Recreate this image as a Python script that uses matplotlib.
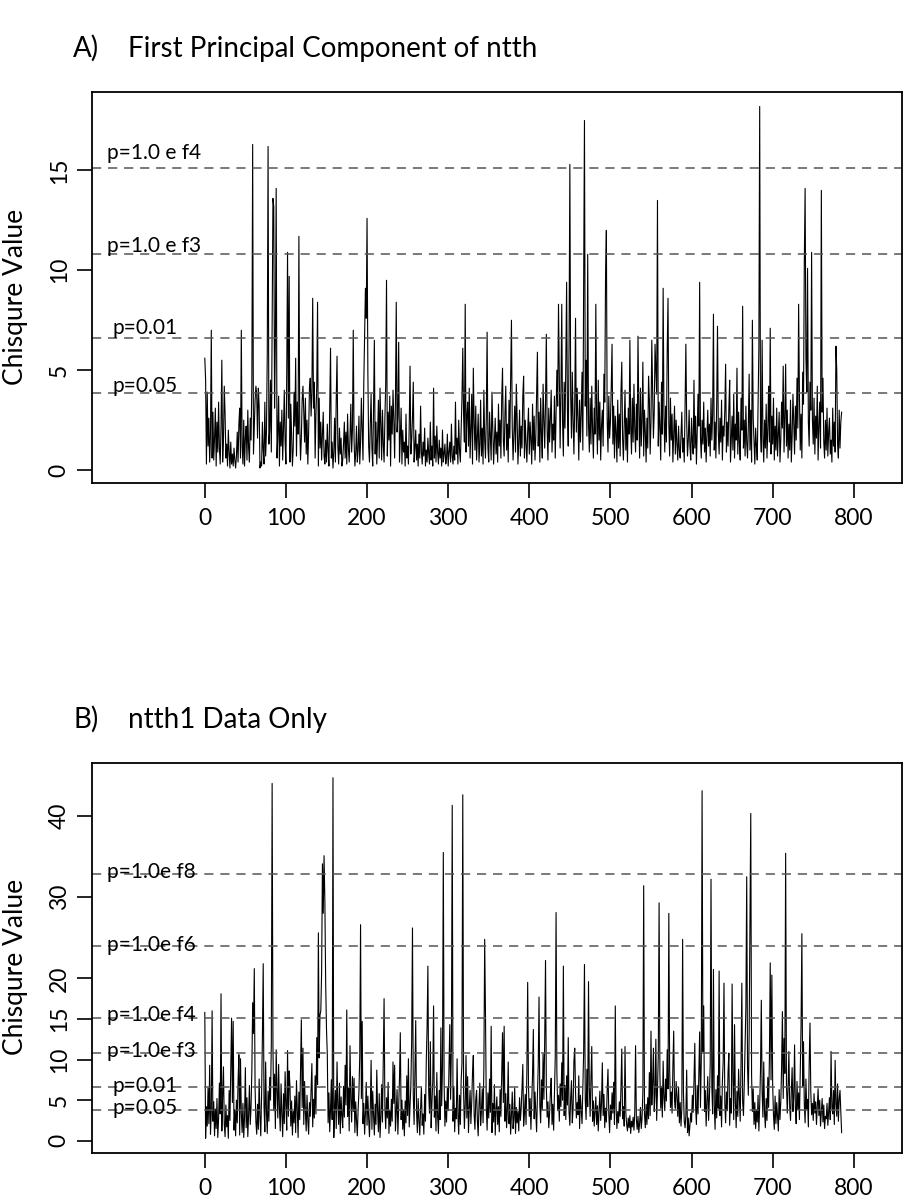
import matplotlib
matplotlib.use("Agg")
import matplotlib.pyplot as plt
import numpy as np

plt.rcParams['font.family'] = ['Lato', 'DejaVu Sans']

# Data: chi-square value per marker position (0..785)
chi_a = [
    5.6, 4.5, 0.3, 3.9, 1.2, 2.6, 0.4, 1.8, 7.0, 0.6,
    2.9, 0.5, 1.6, 3.1, 0.2, 2.4, 0.9, 3.4, 1.1, 0.3,
    2.2, 5.5, 0.4, 1.5, 4.2, 2.8, 0.6, 1.3, 0.2, 2.0,
    0.9, 0.1, 1.4, 0.3, 0.8, 0.2, 1.1, 0.5, 0.1, 0.7,
    1.9, 0.4, 2.3, 3.1, 0.6, 7.0, 1.2, 0.3, 2.5, 0.2,
    1.6, 2.2, 0.5, 3.0, 1.1, 0.4, 2.6, 1.5, 4.3, 16.3,
    0.8, 2.1, 3.5, 4.2, 3.8, 1.6, 4.1, 3.2, 0.1, 0.4,
    0.2, 2.4, 1.0, 0.3, 3.4, 0.7, 1.9, 5.8, 16.2, 1.3,
    2.0, 4.5, 0.9, 6.9, 13.6, 13.2, 3.1, 6.5, 14.1, 0.6,
    1.8, 3.7, 0.2, 2.4, 1.2, 3.0, 0.5, 2.1, 4.0, 1.4,
    0.3, 4.8, 10.9, 2.6, 9.7, 0.4, 3.3, 1.7, 0.2, 1.1,
    3.9, 2.2, 5.6, 0.7, 3.4, 1.8, 11.7, 2.3, 0.5, 1.6,
    3.5, 4.2, 2.9, 1.4, 3.6, 0.8, 2.5, 0.3, 1.9, 4.1,
    4.6, 2.7, 3.9, 8.6, 3.1, 4.4, 0.6, 2.8, 4.2, 8.4,
    0.2, 3.6, 1.1, 2.4, 0.5, 1.8, 2.9, 0.7, 0.3, 1.5,
    0.4, 2.3, 1.0, 0.2, 3.0, 6.1, 0.6, 1.4, 0.1, 0.9,
    2.6, 0.4, 3.5, 5.7, 1.2, 0.3, 2.1, 0.8, 1.6, 0.2,
    0.5, 1.3, 2.4, 0.6, 1.9, 0.3, 2.8, 1.1, 0.4, 1.7,
    3.3, 0.9, 2.0, 7.0, 1.5, 0.2, 0.8, 2.2, 0.4, 1.0,
    2.7, 0.3, 1.4, 3.6, 2.1, 0.5, 4.4, 6.8, 9.1, 7.6,
    12.6, 4.9, 1.2, 0.4, 2.3, 3.8, 1.1, 0.2, 3.1, 6.5,
    0.8, 2.4, 0.3, 1.7, 3.5, 0.6, 4.1, 2.2, 0.5, 3.0,
    1.3, 0.4, 2.6, 4.3, 9.5, 0.7, 2.9, 1.5, 3.7, 0.2,
    3.2, 1.8, 4.0, 2.5, 0.6, 3.4, 8.4, 1.9, 2.7, 6.4,
    0.4, 1.6, 3.1, 0.3, 2.0, 0.9, 1.4, 0.2, 2.8, 0.6,
    1.2, 0.3, 2.2, 5.2, 0.8, 1.5, 2.6, 4.4, 0.4, 1.1,
    2.0, 0.5, 1.3, 0.2, 1.8, 0.6, 3.2, 0.9, 0.3, 1.4,
    0.7, 2.1, 0.2, 1.0, 0.4, 1.6, 0.8, 0.3, 2.4, 0.5,
    1.2, 0.2, 4.1, 0.6, 1.7, 0.4, 2.2, 0.9, 0.3, 1.5,
    0.6, 1.1, 0.2, 2.0, 0.4, 0.8, 1.3, 0.3, 0.6, 1.8,
    0.2, 0.9, 1.4, 0.4, 2.3, 0.7, 0.3, 1.2, 0.5, 3.4,
    0.8, 1.6, 0.3, 2.5, 1.0, 0.4, 1.9, 3.6, 6.1, 2.8,
    1.4, 8.3, 0.9, 2.7, 3.4, 1.2, 4.1, 0.6, 2.0, 3.8,
    0.3, 5.1, 2.4, 1.0, 3.2, 0.5, 1.6, 2.8, 0.4, 1.3,
    3.5, 0.7, 2.1, 0.3, 4.0, 1.5, 0.6, 2.6, 6.9, 1.1,
    0.4, 2.9, 1.7, 0.5, 3.9, 2.2, 0.3, 1.4, 2.6, 0.8,
    1.9, 0.4, 3.3, 1.2, 2.5, 0.6, 3.6, 5.1, 1.5, 0.7,
    2.8, 4.2, 1.0, 2.3, 0.4, 3.5, 1.6, 4.6, 7.5, 2.1,
    0.5, 1.8, 3.2, 0.9, 4.3, 2.6, 0.3, 1.4, 3.0, 0.7,
    2.2, 1.1, 3.7, 4.7, 0.6, 2.5, 1.3, 0.4, 1.9, 3.1,
    0.8, 2.4, 1.5, 0.3, 3.3, 1.0, 2.7, 0.5, 1.6, 3.8,
    5.9, 1.2, 2.9, 0.4, 3.6, 1.8, 0.6, 4.3, 2.5, 1.1,
    3.4, 6.8, 2.0, 0.5, 3.1, 1.4, 2.6, 4.0, 0.9, 2.3,
    1.5, 3.7, 0.6, 2.8, 5.0, 3.2, 8.3, 4.6, 1.1, 3.9,
    8.3, 2.4, 0.7, 4.4, 2.1, 5.3, 9.4, 3.0, 1.2, 6.2,
    15.3, 3.8, 1.6, 4.9, 2.5, 0.8, 3.3, 7.6, 1.9, 4.1,
    2.6, 0.5, 3.5, 1.4, 2.8, 4.9, 1.0, 9.8, 17.5, 3.2,
    5.5, 1.7, 10.8, 2.3, 0.9, 3.6, 1.3, 4.2, 2.0, 0.6,
    3.1, 1.8, 8.3, 2.7, 0.8, 4.5, 1.5, 3.4, 0.5, 2.2,
    3.0, 1.2, 4.8, 3.4, 9.7, 12.0, 2.5, 0.9, 3.7, 1.6,
    2.4, 4.1, 6.3, 1.3, 3.2, 0.6, 2.7, 1.9, 0.4, 3.5,
    1.1, 2.8, 0.7, 3.9, 5.4, 1.6, 0.5, 2.3, 4.0, 1.0,
    2.6, 0.4, 3.1, 1.8, 6.5, 2.2, 0.8, 3.6, 1.4, 4.3,
    2.0, 0.9, 3.3, 1.5, 6.7, 2.9, 0.6, 4.1, 1.2, 2.5,
    5.4, 0.7, 3.0, 1.9, 0.4, 2.6, 1.1, 4.7, 3.5, 0.8,
    2.4, 6.5, 4.2, 1.6, 2.9, 6.3, 5.0, 3.8, 13.5, 1.2,
    3.4, 2.1, 0.5, 4.4, 1.8, 9.1, 2.7, 0.9, 3.2, 1.4,
    6.0, 8.6, 2.3, 0.7, 3.6, 1.5, 2.8, 0.4, 1.9, 3.2,
    0.8, 2.5, 1.3, 0.5, 2.2, 1.0, 0.6, 1.7, 2.9, 0.9,
    1.6, 0.4, 3.1, 6.3, 2.4, 0.7, 1.5, 3.0, 1.2, 0.5,
    2.6, 1.4, 0.8, 4.5, 1.1, 2.7, 0.3, 1.9, 3.8, 2.2,
    9.4, 1.6, 0.6, 2.5, 1.3, 3.4, 0.9, 2.1, 0.4, 1.8,
    3.0, 1.2, 2.3, 0.7, 3.6, 1.5, 2.8, 7.8, 1.0, 2.4,
    0.6, 3.3, 7.2, 1.9, 0.8, 2.6, 1.4, 3.5, 0.5, 2.2,
    1.7, 3.0, 5.3, 0.9, 2.4, 1.2, 3.1, 4.5, 0.4, 1.6,
    2.7, 1.0, 3.8, 0.6, 2.3, 1.5, 5.1, 0.8, 2.9, 1.3,
    0.5, 3.6, 2.0, 8.2, 1.1, 2.5, 0.7, 3.2, 1.4, 0.6,
    2.2, 4.8, 1.0, 3.0, 0.4, 7.5, 2.6, 1.5, 0.3, 2.1,
    1.2, 0.5, 3.4, 6.1, 18.2, 2.0, 0.9, 6.5, 1.6, 0.4,
    2.5, 1.1, 3.3, 0.6, 2.0, 4.2, 1.4, 7.1, 0.8, 2.7,
    1.3, 3.6, 0.5, 2.2, 1.0, 3.1, 0.7, 1.8, 2.9, 0.4,
    1.5, 3.4, 2.1, 5.2, 0.9, 2.6, 5.3, 1.2, 3.0, 0.6,
    2.3, 1.0, 3.5, 0.4, 1.7, 3.8, 2.4, 0.8, 3.2, 1.5,
    4.6, 2.1, 8.3, 3.7, 1.0, 2.8, 0.6, 4.9, 3.3, 10.4,
    14.1, 5.6, 3.9, 10.1, 2.4, 1.2, 4.4, 3.0, 10.9, 2.5,
    1.3, 3.6, 0.8, 2.7, 1.6, 4.2, 0.5, 2.2, 3.4, 1.1,
    14.0, 2.9, 4.6, 1.4, 0.6, 2.5, 1.0, 3.1, 0.7, 1.9,
    2.6, 0.8, 1.5, 0.4, 3.1, 1.2, 2.4, 0.9, 6.2, 5.0,
    1.3, 0.6, 3.0, 1.1, 2.4, 2.9,
]

chi_b = [
    15.8, 0.3, 4.2, 1.8, 6.5, 2.1, 9.3, 0.8, 3.6, 16.0,
    2.4, 4.8, 0.6, 3.9, 1.5, 5.2, 0.4, 2.7, 7.1, 3.3,
    18.1, 1.2, 5.6, 9.1, 2.0, 0.5, 4.4, 1.7, 3.1, 0.3,
    6.2, 2.5, 8.4, 15.1, 4.7, 14.7, 1.3, 3.8, 0.6, 5.0,
    2.2, 7.3, 10.6, 0.7, 10.1, 3.4, 1.0, 4.6, 0.4, 2.9,
    9.0, 1.6, 5.3, 0.5, 3.2, 6.8, 2.0, 4.1, 8.7, 17.0,
    13.2, 21.2, 6.4, 2.3, 0.8, 4.5, 1.4, 7.6, 3.0, 0.6,
    5.7, 12.8, 21.8, 4.2, 1.1, 9.7, 3.5, 0.9, 6.1, 2.4,
    7.8, 5.0, 12.0, 44.0, 11.5, 3.7, 8.2, 1.5, 11.2, 6.3,
    2.8, 9.4, 4.0, 1.2, 7.0, 3.3, 0.5, 5.8, 2.1, 8.5,
    4.4, 1.3, 11.1, 3.0, 8.6, 6.7, 1.8, 4.9, 0.7, 3.6,
    2.2, 5.5, 1.0, 7.4, 3.9, 0.4, 6.0, 2.6, 9.2, 14.9,
    4.1, 11.4, 2.0, 7.3, 3.5, 1.2, 5.6, 2.4, 0.8, 4.7,
    3.0, 6.4, 9.5, 1.7, 5.1, 2.8, 8.0, 3.3, 12.7, 6.9,
    25.6, 10.2, 15.5, 16.0, 20.8, 34.1, 28.0, 35.1, 29.5, 19.4,
    13.8, 10.6, 2.2, 5.9, 1.1, 4.0, 7.5, 2.6, 44.7, 0.4,
    3.8, 6.2, 1.5, 9.7, 4.3, 2.0, 7.1, 0.9, 5.4, 3.1,
    1.6, 6.7, 2.9, 9.3, 4.4, 16.1, 3.0, 6.5, 1.2, 11.7,
    5.1, 2.3, 7.9, 3.6, 7.7, 1.0, 4.8, 2.5, 0.6, 3.9,
    6.0, 10.4, 26.6, 5.2, 14.7, 2.1, 4.6, 0.8, 3.4, 7.2,
    1.9, 5.5, 2.7, 0.5, 4.0, 9.9, 1.4, 6.1, 3.2, 0.7,
    4.5, 2.0, 8.7, 3.6, 1.1, 5.8, 0.4, 3.0, 6.9, 2.3,
    9.6, 17.5, 4.1, 1.5, 5.3, 2.8, 7.2, 0.9, 3.7, 1.8,
    5.1, 2.4, 9.7, 4.6, 9.3, 1.2, 3.5, 6.3, 0.8, 4.2,
    7.7, 13.3, 2.6, 5.0, 1.4, 3.8, 0.6, 4.9, 2.2, 8.0,
    3.1, 10.1, 1.7, 4.4, 6.8, 12.3, 26.2, 5.5, 2.0, 8.1,
    14.8, 3.6, 1.0, 5.2, 2.5, 0.7, 4.0, 6.6, 1.9, 3.3,
    0.8, 5.7, 2.4, 9.8, 13.9, 21.5, 6.0, 3.4, 12.2, 1.6,
    4.7, 7.3, 16.6, 2.9, 5.5, 1.2, 8.4, 3.0, 0.9, 6.2,
    2.6, 13.9, 4.3, 9.1, 35.5, 7.0, 1.8, 4.9, 2.3, 6.5,
    3.7, 8.8, 14.3, 5.1, 11.6, 41.3, 2.4, 6.7, 1.1, 4.0,
    2.7, 10.1, 3.2, 0.8, 5.6, 2.0, 7.4, 9.5, 42.6, 6.1,
    1.5, 4.4, 10.5, 2.8, 7.9, 1.0, 3.9, 6.2, 2.1, 4.8,
    8.3, 10.5, 3.3, 1.4, 5.0, 6.2, 2.5, 0.6, 4.3, 7.1,
    1.9, 3.6, 6.4, 2.2, 9.0, 24.8, 15.5, 4.1, 1.3, 5.9,
    2.8, 7.6, 3.5, 14.1, 1.0, 4.6, 2.3, 6.9, 0.7, 3.8,
    5.4, 2.0, 4.2, 1.1, 6.3, 3.0, 8.2, 13.3, 4.7, 14.1,
    2.4, 5.8, 1.6, 3.9, 9.7, 2.1, 4.5, 0.8, 3.2, 6.0,
    1.5, 2.7, 6.5, 0.9, 4.1, 2.2, 3.6, 1.2, 5.3, 2.5,
    4.0, 6.4, 9.4, 1.8, 3.3, 5.7, 2.0, 8.6, 19.5, 6.8,
    3.0, 5.2, 1.4, 4.6, 8.1, 13.7, 2.7, 6.0, 3.5, 1.1,
    5.5, 9.2, 17.7, 4.3, 2.2, 7.5, 3.8, 10.7, 5.1, 12.4,
    22.2, 6.6, 2.9, 4.8, 1.6, 3.4, 5.9, 7.7, 2.0, 4.5,
    1.3, 6.1, 10.3, 28.1, 8.5, 3.7, 5.6, 2.4, 7.0, 4.2,
    9.6, 5.0, 21.5, 3.1, 6.8, 2.6, 8.0, 4.4, 12.7, 3.5,
    1.9, 5.3, 7.4, 2.2, 4.0, 9.8, 11.4, 6.0, 2.8, 4.7,
    3.2, 8.0, 1.5, 5.6, 3.9, 2.1, 6.3, 10.9, 21.7, 5.0,
    2.6, 8.8, 4.2, 19.6, 6.5, 3.0, 7.7, 11.6, 2.4, 4.9,
    1.8, 3.6, 5.4, 2.0, 4.3, 1.2, 3.8, 6.1, 2.5, 4.6,
    9.6, 3.1, 5.7, 1.6, 4.0, 2.3, 6.2, 8.8, 3.3, 1.0,
    4.4, 2.6, 5.9, 3.4, 7.2, 2.0, 16.6, 4.1, 1.5, 3.6,
    2.2, 4.8, 3.0, 6.5, 11.3, 2.7, 4.2, 1.8, 11.6, 3.4,
    2.0, 1.2, 2.8, 1.6, 3.1, 0.9, 2.4, 1.7, 2.9, 1.3,
    3.5, 11.7, 2.6, 1.4, 3.0, 1.0, 2.2, 4.1, 1.5, 2.8,
    6.0, 31.4, 3.2, 1.6, 4.5, 2.0, 5.3, 2.7, 8.4, 3.1,
    13.5, 4.4, 7.0, 11.4, 3.6, 5.8, 12.5, 2.5, 6.2, 10.6,
    29.3, 8.2, 4.0, 6.7, 2.9, 9.8, 5.3, 3.7, 7.6, 4.9,
    11.2, 6.4, 28.0, 8.9, 4.1, 6.0, 3.4, 9.1, 13.5, 5.0,
    4.0, 7.3, 5.4, 3.0, 6.6, 2.2, 4.7, 1.8, 3.9, 24.8,
    6.0, 2.4, 1.6, 3.1, 8.7, 1.0, 2.8, 0.6, 1.9, 3.4,
    2.3, 5.6, 3.5, 7.4, 12.0, 4.2, 2.0, 6.8, 3.3, 8.6,
    13.4, 4.1, 9.9, 43.1, 11.0, 16.6, 3.6, 6.2, 1.8, 4.7,
    7.9, 2.5, 5.1, 9.4, 32.2, 6.7, 3.3, 21.1, 4.5, 1.4,
    6.3, 2.8, 8.0, 4.0, 20.9, 3.1, 5.5, 1.7, 7.2, 9.8,
    19.4, 4.6, 2.2, 6.0, 3.7, 8.5, 10.8, 1.9, 5.2, 3.4,
    19.3, 7.5, 2.6, 14.3, 4.9, 1.6, 6.1, 3.0, 8.8, 5.3,
    2.4, 9.6, 19.4, 4.8, 3.1, 7.0, 11.8, 16.5, 32.5, 9.2,
    5.6, 13.0, 27.5, 40.3, 8.1, 3.6, 6.4, 2.0, 4.7, 1.5,
    3.8, 2.3, 5.6, 1.2, 4.4, 8.7, 17.3, 6.0, 2.9, 9.7,
    3.4, 1.6, 5.2, 2.5, 7.8, 4.1, 10.3, 21.9, 7.5, 20.4,
    6.9, 3.2, 1.4, 5.5, 2.1, 4.7, 3.0, 1.2, 6.3, 2.6,
    4.8, 9.0, 15.9, 5.2, 12.6, 8.3, 35.4, 7.0, 3.4, 6.6,
    11.0, 4.2, 2.5, 6.1, 9.0, 3.6, 5.4, 11.8, 4.0, 2.1,
    7.3, 3.8, 5.9, 2.6, 8.4, 14.3, 25.5, 6.7, 12.2, 4.5,
    2.2, 7.6, 3.9, 5.1, 1.7, 9.5, 14.5, 6.0, 3.2, 4.6,
    2.5, 5.8, 3.4, 4.8, 2.0, 4.1, 6.4, 3.1, 5.0, 1.8,
    3.6, 5.2, 2.3, 4.4, 1.5, 3.0, 2.7, 4.6, 1.9, 3.5,
    5.3, 2.6, 11.0, 4.1, 3.3, 6.2, 2.0, 9.9, 4.5, 3.0,
    7.0, 2.4, 5.1, 6.2, 3.7, 1.0,
]

# significance thresholds (chi-square, 1 df) and their labels
thr_a = [15.14, 10.83, 6.63, 3.84]
lab_a = ['p=1.0 e f4', 'p=1.0 e f3', 'p=0.01', 'p=0.05']
thr_b = [32.84, 23.93, 15.14, 10.83, 6.63, 3.84]
lab_b = ['p=1.0e f8', 'p=1.0e f6', 'p=1.0e f4', 'p=1.0e f3', 'p=0.01', 'p=0.05']

xticks = [0, 100, 200, 300, 400, 500, 600, 700, 800]
yticks_a = [0, 5, 10, 15]
yticks_b = [0, 5, 10, 15, 20, 30, 40]

fig = plt.figure(figsize=(9.05, 12), dpi=100)


def panel(rect, y, thr, labels, lab_shift, yticks):
    ax = fig.add_axes(rect)
    x = np.arange(len(y))
    ax.plot(x, y, color='black', lw=0.8)
    for t, lab, d in zip(thr, labels, lab_shift):
        ax.axhline(t, color='#555555', lw=1.1, dashes=(6, 4.5))
        xpos = -121 if lab.startswith('p=1') else -114
        ax.text(xpos, t + d, lab, fontsize=15, va='baseline', ha='left')
    # R style 4% padding
    lo, hi = min(y), max(y)
    pad = 0.04 * (hi - lo)
    ax.set_ylim(lo - pad, hi + pad)
    ax.set_xlim(-139, 860)
    ax.set_xticks(xticks)
    ax.set_yticks(yticks)
    ax.tick_params(direction='out', length=11, width=1.2, labelsize=16.5,
                   top=False, right=False)
    ax.tick_params(axis='x', pad=7)
    ax.tick_params(axis='y', pad=5)
    for lbl in ax.get_yticklabels():
        lbl.set_rotation(90)
        lbl.set_va('center')
    for s in ax.spines.values():
        s.set_linewidth(1.3)
    return ax


ax1 = panel([0.1017, 0.5979, 0.8955, 0.3254], chi_a, thr_a, lab_a,
            [0.42, 0.08, 0.18, 0.05], yticks_a)
ax2 = panel([0.1017, 0.0394, 0.8955, 0.3245], chi_b, thr_b, lab_b,
            [-0.5, -0.58, -0.44, -0.48, -0.63, -0.5], yticks_b)

# titles and axis labels
fig.text(73 / 905, 1 - 57 / 1200, 'A)', fontsize=20, va='baseline')
fig.text(128 / 905, 1 - 57 / 1200, 'First Principal Component of ntth',
         fontsize=20, va='baseline')
fig.text(73 / 905, 1 - 728 / 1200, 'B)', fontsize=20, va='baseline')
fig.text(128 / 905, 1 - 728 / 1200, 'ntth1 Data Only',
         fontsize=20, va='baseline')
fig.text(16 / 905, 1 - 297 / 1200, 'Chisqure Value', fontsize=19,
         rotation=90, ha='center', va='center')
fig.text(16 / 905, 1 - 967 / 1200, 'Chisqure Value', fontsize=19,
         rotation=90, ha='center', va='center')

fig.savefig('out.png', dpi=100)
